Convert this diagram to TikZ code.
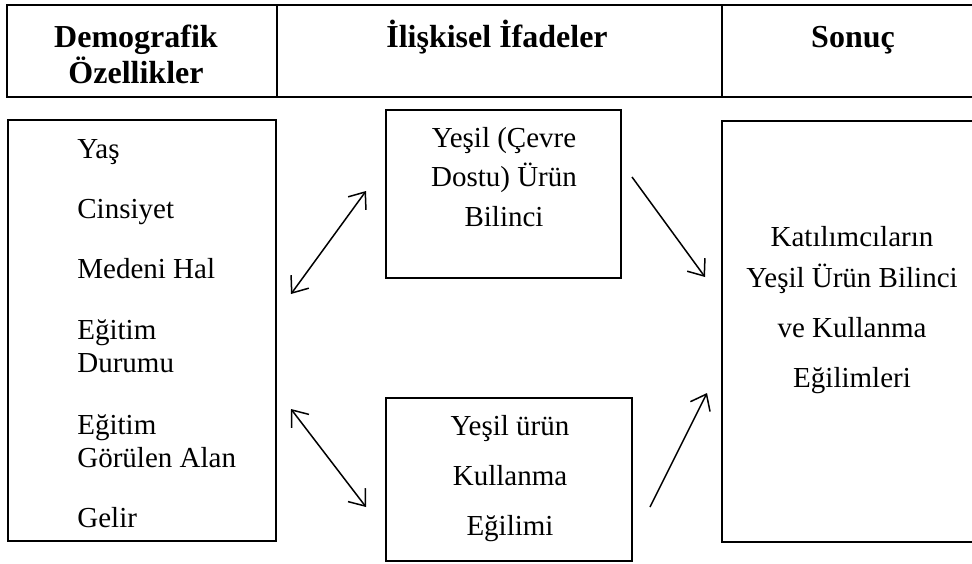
\documentclass[tikz,border=0pt]{standalone}
\usepackage{fontspec}
\setmainfont{Liberation Serif}
\usetikzlibrary{arrows.meta,fit}
\tikzset{
kutu/.style=
    {draw,
    line width=0.75pt,
    inner sep=0pt
    },
baslik/.style=
    {font=\fontsize{16}{18}\selectfont\bfseries,
    inner sep=0pt,
    anchor=base,
    align=center
    },
madde/.style=
    {font=\fontsize{14.5}{16.5}\selectfont,
    inner sep=0pt,
    anchor=base west,
    align=left
    },
ortayazi/.style=
    {font=\fontsize{14.5}{19.75}\selectfont,
    inner sep=0pt,
    anchor=base,
    align=center
    },
ok/.style=
    {line width=0.75pt,
    -{Straight Barb[length=7pt,width=11pt]}
    },
ciftok/.style=
    {line width=0.75pt,
    {Straight Barb[length=7pt,width=11pt]}-{Straight Barb[length=7pt,width=11pt]}
    }}

\begin{document}
\begin{tikzpicture}[x=0.5pt,y=-0.5pt]
\useasboundingbox (0,0) rectangle (972,563);
\clip (0,0) rectangle (972,563);
% baslik tablosu
\node[kutu,fit={(7,5) (277,97)}] (hucre1) {};
\node[kutu,fit={(277,5) (722,97)}] (hucre2) {};
\node[kutu,fit={(722,5) (984,97)}] (hucre3) {};
\node[baslik] (b1) at (136,83) {Demografik\\Özellikler};
\node[baslik] (b2) at (497,47) {İlişkisel İfadeler};
\node[baslik] (b3) at (853,47) {Sonuç};
% kutular
\node[kutu,fit={(8,120) (276,541)}] (demografik) {};
\node[kutu,fit={(386,110) (621,278)}] (bilinc) {};
\node[kutu,fit={(386,398) (632,561)}] (egilim) {};
\node[kutu,fit={(722,121) (984,542)}] (sonuc) {};
% demografik ozellikler
\node[madde] (m1) at (77,158) {Yaş};
\node[madde] (m2) at (77,218) {Cinsiyet};
\node[madde] (m3) at (77,278) {Medeni Hal};
\node[madde] (m4) at (77,372) {Eğitim\\Durumu};
\node[madde] (m5) at (77,467) {Eğitim\\Görülen Alan};
\node[madde] (m6) at (77,527) {Gelir};
% ifadeler
\node[ortayazi] (t1) at (504,226) {Yeşil (Çevre\\Dostu) Ürün\\Bilinci};
\node[ortayazi,font=\fontsize{14.5}{25}\selectfont] (t2) at (510,535) {Yeşil ürün\\Kullanma\\Eğilimi};
\node[ortayazi,font=\fontsize{14.5}{20.5}\selectfont] (t3) at (852,387) {Katılımcıların\\Yeşil Ürün Bilinci\\[4.5pt]ve Kullanma\\[4.5pt]Eğilimleri};
% oklar
\coordinate (o1a) at (291,294);
\coordinate (o1b) at (366,191);
\coordinate (o2a) at (291,409);
\coordinate (o2b) at (366,507);
\coordinate (o3a) at (632,177);
\coordinate (o3b) at (705,277);
\coordinate (o4a) at (650,507);
\coordinate (o4b) at (707,393);
\draw[ciftok] (o1a) -- (o1b);
\draw[ciftok] (o2a) -- (o2b);
\draw[ok] (o3a) -- (o3b);
\draw[ok] (o4a) -- (o4b);
\end{tikzpicture}
\end{document}
